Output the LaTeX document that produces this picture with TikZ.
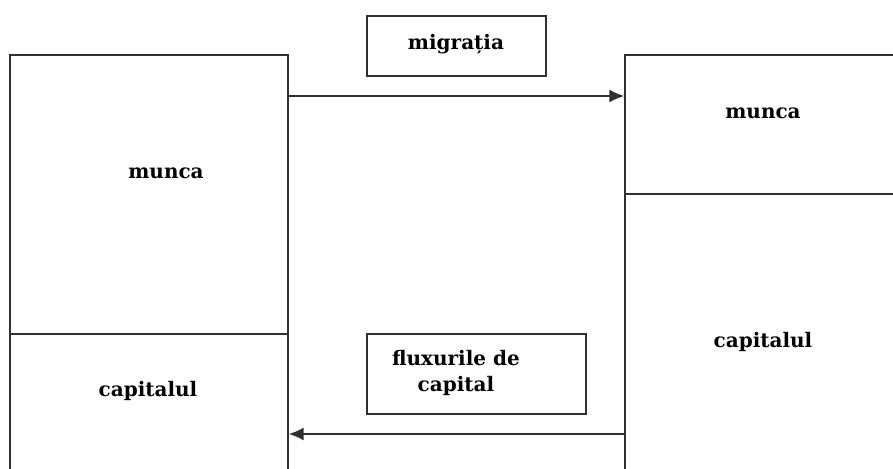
\documentclass[tikz,border=0pt]{standalone}
\usepackage{fontspec}
\setmainfont{DejaVu Serif}
\usetikzlibrary{arrows.meta}
\definecolor{linegray}{HTML}{303030}
\tikzset{
  box/.style={draw=linegray, line width=1.5pt, rectangle, inner sep=0pt, outer sep=0pt},
  lbl/.style={font=\fontsize{20}{26}\selectfont\bfseries, text=black, align=center, inner sep=0pt},
  arr/.style={draw=linegray, line width=1.5pt, -{Latex[length=15pt,width=13pt]}, shorten >=0.7pt}
}
\begin{document}
\begin{tikzpicture}[x=1pt,y=-1pt]
\useasboundingbox (0,0) rectangle (893,468);
\fill[white] (0,0) rectangle (893,468);
\clip (0,0) rectangle (893,468);
% left column
\node[box, minimum width=278pt, minimum height=279pt] (lm) at (149,194.5) {};
\node[box, minimum width=278pt, minimum height=160pt] (lc) at (149,414) {};
% right column
\node[box, minimum width=290pt, minimum height=139pt] (rm) at (770,124.5) {};
\node[box, minimum width=290pt, minimum height=300pt] (rc) at (770,344) {};
% label boxes
\node[box, minimum width=179pt, minimum height=60pt] (mig) at (456.5,46) {};
\node[box, minimum width=219pt, minimum height=80pt] (flx) at (476.5,374) {};
% texts
\node[lbl] (tlm) at (166,173) {munca};
\node[lbl] (tlc) at (148,391) {capitalul};
\node[lbl] (trm) at (763,113) {munca};
\node[lbl] (trc) at (763,342) {capitalul};
\node[lbl] (tmig) at (456,44) {migrația};
\node[lbl] (tflx) at (456,373) {fluxurile de\\capital};
% connectors
\coordinate (ya) at (0,434);
\draw[arr] ([yshift=-41pt]lm.north east) -- ([yshift=-41pt]rm.north west);
\draw[arr] (rc.west |- ya) -- (lc.east |- ya);
\end{tikzpicture}
\end{document}
